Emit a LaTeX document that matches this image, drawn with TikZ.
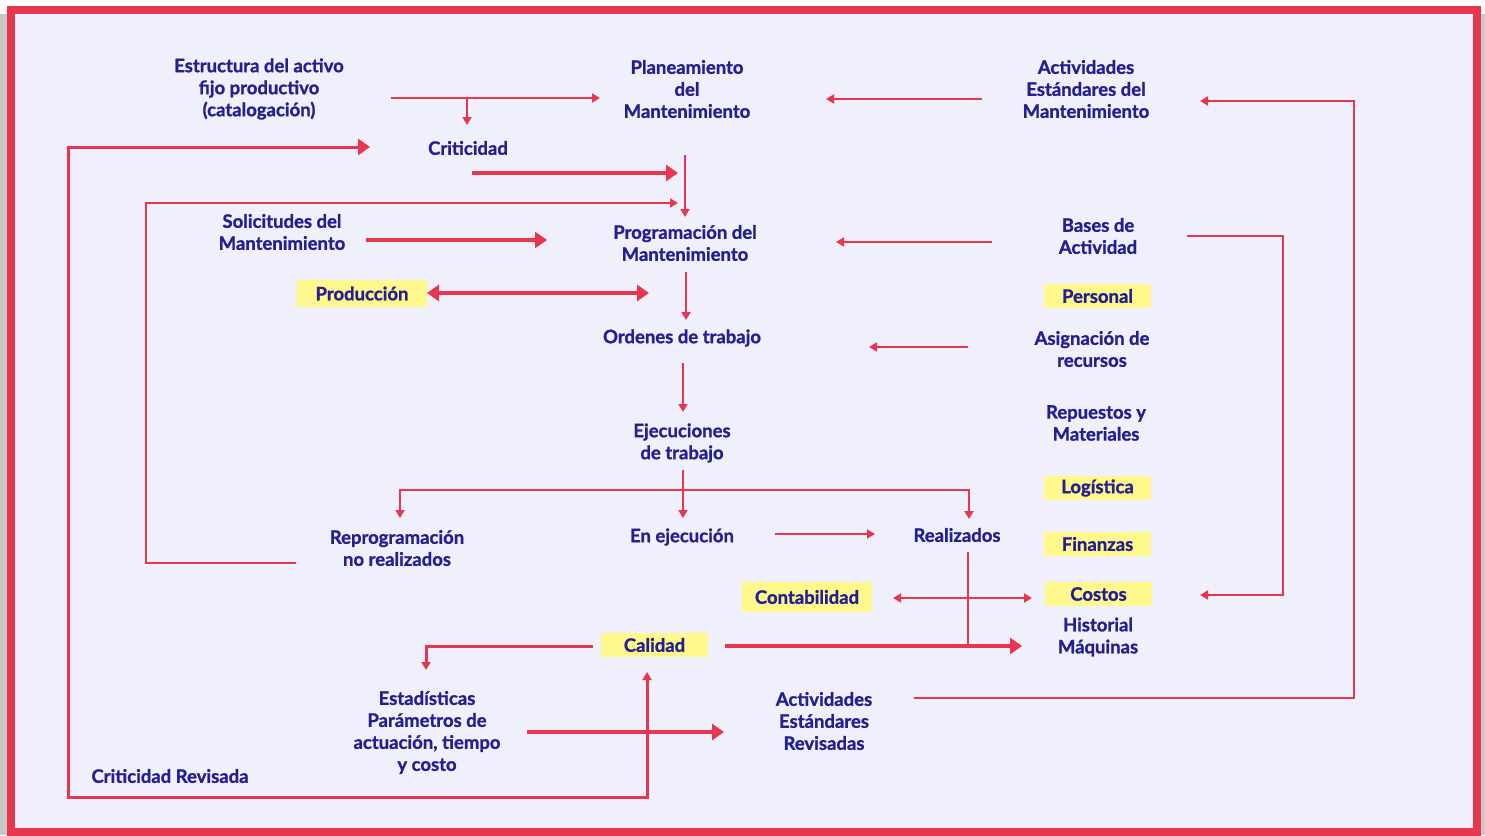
\documentclass[tikz,border=0pt]{standalone}
\usepackage{fontspec}
\setmainfont{Lato}[BoldFeatures={FakeBold=1.2}]
\usetikzlibrary{arrows.meta}

\definecolor{frojo}{RGB}{232,54,79}
\definecolor{fazul}{RGB}{36,32,145}
\definecolor{ffondo}{RGB}{240,240,252}
\definecolor{famarillo}{RGB}{255,248,140}

\tikzset{
	punta/.tip={Triangle[length=8pt,width=9pt]},
	puntagruesa/.tip={Triangle[length=12pt,width=16pt]},
	etiqueta/.style={text=fazul, font=\bfseries\fontsize{18.5}{22}\selectfont, align=center, inner sep=0pt},
	resaltado/.style={etiqueta, fill=famarillo, minimum height=24pt, minimum width=107pt},
	linea/.style={draw=frojo, line width=2pt},
	flecha/.style={linea, -punta},
	flechagruesa/.style={draw=frojo, line width=3.5pt, -puntagruesa},
}

\begin{document}
\begin{tikzpicture}[x=1pt, y=-1pt]
	\useasboundingbox (0,0) rectangle (1485,835);
	
	%Rahmen
	\fill[white] (0,0) rectangle (1485,835);
	\fill[black!22] (0,14) rectangle (1485,835);
	\filldraw[fill=ffondo, draw=frojo, line width=8pt] (10.5,9.5) rectangle (1476.5,832);
	
	%Knoten
	\node[etiqueta] (estructura) at (259,89) {Estructura del activo\\fijo productivo\\(catalogación)};
	\node[etiqueta] (planeamiento) at (687,89) {Planeamiento\\del\\Mantenimiento};
	\node[etiqueta] (actestandar) at (1086,89) {Actividades\\Estándares del\\Mantenimiento};
	\node[etiqueta] (criticidad) at (468,148) {Criticidad};
	\node[etiqueta] (solicitudes) at (282,232) {Solicitudes del\\Mantenimiento};
	\node[etiqueta] (programacion) at (685,243) {Programación del\\Mantenimiento};
	\node[etiqueta] (bases) at (1098,236) {Bases de\\Actividad};
	\node[resaltado, minimum width=130pt, minimum height=27pt] (produccion) at (362,293.5) {Producción};
	\node[resaltado] (personal) at (1097.5,296) {Personal};
	\node[etiqueta] (ordenes) at (682,338) {Ordenes de trabajo};
	\node[etiqueta] (asignacion) at (1092,349) {Asignación de\\recursos};
	\node[etiqueta] (repuestos) at (1096,423) {Repuestos y\\Materiales};
	\node[etiqueta] (ejecuciones) at (682,443) {Ejecuciones\\de trabajo};
	\node[resaltado] (logistica) at (1097.5,488) {Logística};
	\node[etiqueta] (reprogramacion) at (397,548) {Reprogramación\\no realizados};
	\node[etiqueta] (enejecucion) at (682,537) {En ejecución};
	\node[etiqueta] (realizados) at (957,535) {Realizados};
	\node[resaltado] (finanzas) at (1097.5,544) {Finanzas};
	\node[resaltado, minimum width=130pt, minimum height=30pt] (contabilidad) at (807,597) {Contabilidad};
	\node[resaltado] (costos) at (1098.5,594) {Costos};
	\node[etiqueta] (historial) at (1098,637) {Historial\\Máquinas};
	\node[resaltado] (calidad) at (654.5,645) {Calidad};
	\node[etiqueta] (estadisticas) at (427,732.5) {Estadísticas\\Parámetros de\\actuación, tiempo\\y costo};
	\node[etiqueta] (actrevisadas) at (824,721) {Actividades\\Estándares\\Revisadas};
	\node[etiqueta] (critrevisada) at (170,776) {Criticidad Revisada};
	
	%Endpunkte
	\coordinate (estr1) at (391,98); \coordinate (estr2) at (600,98); \coordinate (estr3) at (467,98); \coordinate (estr4) at (467,125);
	\coordinate (acte1) at (982,99); \coordinate (acte2) at (826,99);
	\coordinate (crit1) at (472,173); \coordinate (crit2) at (678,173);
	\coordinate (plan1) at (685,155); \coordinate (plan2) at (685,217);
	\coordinate (soli1) at (366,240); \coordinate (soli2) at (547,240);
	\coordinate (base1) at (992,242); \coordinate (base2) at (836,242);
	\coordinate (prod1) at (427,293); \coordinate (prod2) at (649,293);
	\coordinate (prog1) at (686,272); \coordinate (prog2) at (686,320);
	\coordinate (asig1) at (968,347); \coordinate (asig2) at (869,347);
	\coordinate (orde1) at (683,363); \coordinate (orde2) at (683,412);
	\coordinate (ejec1) at (683,470); \coordinate (ejec2) at (683,518);
	\coordinate (rama1) at (400,518); \coordinate (rama2) at (969,519);
	\coordinate (enej1) at (775,534); \coordinate (enej2) at (875,534);
	\coordinate (real1) at (968,552); \coordinate (real2) at (968,646);
	\coordinate (cont1) at (893,598); \coordinate (cont2) at (1032,598);
	\coordinate (cali1) at (725,646); \coordinate (cali2) at (1022,646);
	\coordinate (cali3) at (593,646); \coordinate (cali4) at (426,670);
	\coordinate (esta1) at (527,732); \coordinate (esta2) at (724,732);
	\coordinate (revi1) at (914,698); \coordinate (revi2) at (1200,101);
	\coordinate (basc1) at (1187,236); \coordinate (basc2) at (1200,595);
	\coordinate (repr1) at (296,563); \coordinate (repr2) at (678,203);
	\coordinate (crir1) at (647,672); \coordinate (crir2) at (370,147);
	
	%Verbindungen
	\draw[flecha] (estr1) -- (estr2);
	\draw[flecha] (estr3) -- (estr4);
	\draw[flecha] (acte1) -- (acte2);
	\draw[flechagruesa] (crit1) -- (crit2);
	\draw[flecha] (plan1) -- (plan2);
	\draw[flechagruesa] (soli1) -- (soli2);
	\draw[flecha] (base1) -- (base2);
	\draw[flechagruesa, puntagruesa-puntagruesa] (prod1) -- (prod2);
	\draw[flecha] (prog1) -- (prog2);
	\draw[flecha] (asig1) -- (asig2);
	\draw[flecha] (orde1) -- (orde2);
	\draw[flecha] (ejec1) -- (ejec2);
	\draw[flecha, punta-punta] (rama1) -- (rama1 |- 0,490) -- (rama2 |- 0,490) -- (rama2);
	\draw[flecha] (enej1) -- (enej2);
	\draw[linea] (real1) -- (real2);
	\draw[flecha, punta-punta] (cont1) -- (cont2);
	\draw[flechagruesa] (cali1) -- (cali2);
	\draw[flecha, line width=3pt] (cali3) -- (cali4 |- cali3) -- (cali4);
	\draw[flechagruesa] (esta1) -- (esta2);
	\draw[flecha] (revi1) -- (1354,698) -- (1354,101) -- (revi2);
	\draw[flecha] (basc1) -- (1283,236) -- (1283,595) -- (basc2);
	\draw[flecha, line width=2.5pt] (repr1) -- (146,563) -- (146,203) -- (repr2);
	\draw[draw=frojo, line width=3pt, punta-puntagruesa] (crir1) -- (647,797) -- (68,797) -- (68,147) -- (crir2);
	
\end{tikzpicture}
\end{document}
